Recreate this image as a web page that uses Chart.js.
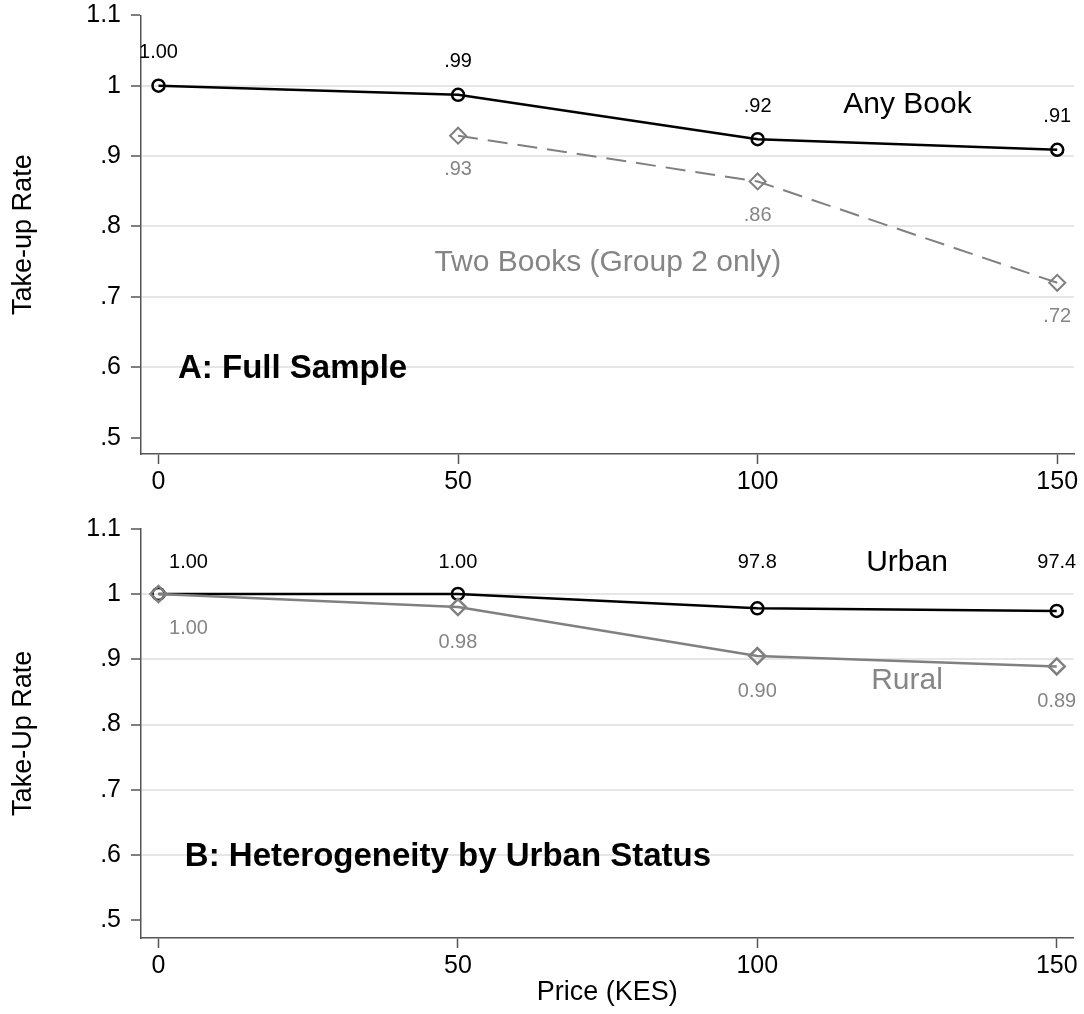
<!DOCTYPE html>
<html lang="en">
<head>
<meta charset="UTF-8">
<title>Take-up Rate by Price</title>
<script src="https://cdn.jsdelivr.net/npm/chart.js"></script>
<style>
  body { margin: 0; background: #fff; }
  #wrap { position: relative; width: 1084px; height: 1014px; background: #fff; }
  #wrap canvas { position: absolute; left: 0; }
  #chartA { top: 0; }
  #chartB { top: 500px; }
</style>
</head>
<body>
<div id="wrap">
  <canvas id="chartA" width="1084" height="500"></canvas>
  <canvas id="chartB" width="1084" height="514"></canvas>
</div>
<script>
const price = [0, 50, 100, 150];
const priceTicks = [0, 50, 100, 150];
const rateTicks = [0.5, 0.6, 0.7, 0.8, 0.9, 1, 1.1];
const rateTickLabels = ['.5', '.6', '.7', '.8', '.9', '1', '1.1'];

// panel A: full sample
const anyBook = [1.00, 0.987, 0.924, 0.909];
const anyBookLabels = ['1.00', '.99', '.92', '.91'];
const twoBooks = [null, 0.929, 0.864, 0.720];
const twoBooksLabels = [null, '.93', '.86', '.72'];

// panel B: by urban status
const urban = [1.00, 1.00, 0.978, 0.974];
const urbanLabels = ['1.00', '1.00', '97.8', '97.4'];
const rural = [1.00, 0.980, 0.905, 0.889];
const ruralLabels = ['1.00', '0.98', '0.90', '0.89'];

const FONT = '"Liberation Sans", Arial, Helvetica, sans-serif';
const GRAY = '#858585';
const AXIS = '#555555';

function toPoints(ys) {
    return price.map((p, i) => ({ x: p, y: ys[i] }));
}

// draws value labels next to points and the text notes inside the plot
const panelText = {
    id: 'panelText',
    afterDatasetsDraw(chart, args, opts) {
        const { ctx } = chart;
        const x = chart.scales.x, y = chart.scales.y;
        ctx.save();
        ctx.textAlign = 'center';
        ctx.textBaseline = 'middle';
        (opts.pointLabels || []).forEach(pl => {
            const meta = chart.getDatasetMeta(pl.dataset);
            ctx.font = '20px ' + FONT;
            ctx.fillStyle = pl.color;
            meta.data.forEach((pt, i) => {
                const txt = pl.labels[i];
                if (txt == null || pt.skip) return;
                const px = pt.x + (i === 0 ? (pl.firstShift || 0) : 0);
                const py = pl.level != null ? y.getPixelForValue(pl.level) : pt.y + pl.offset;
                ctx.fillText(txt, px, py);
            });
        });
        (opts.notes || []).forEach(n => {
            ctx.font = (n.bold ? 'bold ' : '') + n.size + 'px ' + FONT;
            ctx.fillStyle = n.color;
            ctx.textAlign = n.align || 'center';
            ctx.fillText(n.text, x.getPixelForValue(n.x), y.getPixelForValue(n.y));
        });
        ctx.restore();
    }
};

function makeChart(id, opt) {
    return new Chart(document.getElementById(id), {
        type: 'line',
        data: { datasets: opt.datasets },
        options: {
            responsive: false,
            animation: false,
            layout: { padding: { top: opt.padTop, right: 10, left: 0, bottom: 0 } },
            plugins: {
                legend: { display: false },
                tooltip: { enabled: false },
                panelText: { pointLabels: opt.pointLabels, notes: opt.notes }
            },
            scales: {
                x: {
                    type: 'linear',
                    min: -2.92,
                    max: 152.8,
                    afterBuildTicks: s => { s.ticks = priceTicks.map(v => ({ value: v })); },
                    afterFit: s => { s.height = opt.xHeight; s.paddingLeft = 0; s.paddingRight = 0; },
                    ticks: { color: '#000', font: { size: 25, family: FONT }, padding: 3, maxRotation: 0 },
                    grid: { drawOnChartArea: false, tickLength: 10, tickColor: AXIS, tickWidth: 1.5 },
                    border: { color: AXIS, width: 1.5 },
                    title: opt.xTitle ? {
                        display: true, text: opt.xTitle, color: '#000',
                        font: { size: 27, family: FONT }, padding: { top: 0, bottom: 5 }
                    } : { display: false }
                },
                y: {
                    min: opt.yMin,
                    max: 1.1,
                    afterBuildTicks: s => { s.ticks = rateTicks.map(v => ({ value: v })); },
                    afterFit: s => { s.width = 141; s.paddingTop = 0; s.paddingBottom = 0; },
                    ticks: {
                        color: '#000', font: { size: 25, family: FONT }, padding: 10,
                        callback: (v, i) => rateTickLabels[i]
                    },
                    grid: {
                        color: c => (c.index === 0 || c.index === rateTicks.length - 1) ? 'rgba(0,0,0,0)' : '#e6e6e6',
                        lineWidth: 2,
                        tickLength: 10, tickColor: AXIS, tickWidth: 1.5
                    },
                    border: { color: AXIS, width: 1.5 },
                    title: {
                        display: true, text: opt.yTitle, color: '#000',
                        font: { size: 27, family: FONT }, padding: { top: 7 }
                    }
                }
            }
        },
        plugins: [panelText]
    });
}

makeChart('chartA', {
    padTop: 15.3,
    xHeight: 46,
    yMin: 0.4768,
    yTitle: 'Take-up Rate',
    datasets: [
        {
            data: toPoints(anyBook), borderColor: '#000', borderWidth: 2.5,
            pointStyle: 'circle', pointRadius: 6, pointBorderWidth: 2.5,
            pointBorderColor: '#000', pointBackgroundColor: 'rgba(0,0,0,0)', order: 0
        },
        {
            data: toPoints(twoBooks), borderColor: '#808080', borderWidth: 2, borderDash: [20, 10],
            pointStyle: 'rectRot', pointRadius: 8, pointBorderWidth: 2,
            pointBorderColor: '#808080', pointBackgroundColor: 'rgba(0,0,0,0)', order: 1
        }
    ],
    pointLabels: [
        { dataset: 0, labels: anyBookLabels, color: '#000', offset: -33 },
        { dataset: 1, labels: twoBooksLabels, color: GRAY, offset: 34 }
    ],
    notes: [
        { text: 'Any Book', x: 125, y: 0.973, size: 30, color: '#000' },
        { text: 'Two Books (Group 2 only)', x: 75, y: 0.748, size: 30, color: GRAY },
        { text: 'A: Full Sample', x: 3.26, y: 0.598, size: 33, bold: true, color: '#000', align: 'left' }
    ]
});

makeChart('chartB', {
    padTop: 28.7,
    xHeight: 76,
    yMin: 0.473,
    yTitle: 'Take-Up Rate',
    xTitle: 'Price (KES)',
    datasets: [
        {
            data: toPoints(urban), borderColor: '#000', borderWidth: 2.5,
            pointStyle: 'circle', pointRadius: 6, pointBorderWidth: 2.5,
            pointBorderColor: '#000', pointBackgroundColor: 'rgba(0,0,0,0)', order: 1
        },
        {
            data: toPoints(rural), borderColor: '#808080', borderWidth: 2.5,
            pointStyle: 'rectRot', pointRadius: 8, pointBorderWidth: 2.5,
            pointBorderColor: '#808080', pointBackgroundColor: 'rgba(0,0,0,0)', order: 0
        }
    ],
    pointLabels: [
        { dataset: 0, labels: urbanLabels, color: '#000', level: 1.048, firstShift: 30 },
        { dataset: 1, labels: ruralLabels, color: GRAY, offset: 35, firstShift: 30 }
    ],
    notes: [
        { text: 'Urban', x: 125, y: 1.048, size: 30, color: '#000' },
        { text: 'Rural', x: 125, y: 0.867, size: 30, color: GRAY },
        { text: 'B: Heterogeneity by Urban Status', x: 4.4, y: 0.597, size: 33, bold: true, color: '#000', align: 'left' }
    ]
});
</script>
</body>
</html>
